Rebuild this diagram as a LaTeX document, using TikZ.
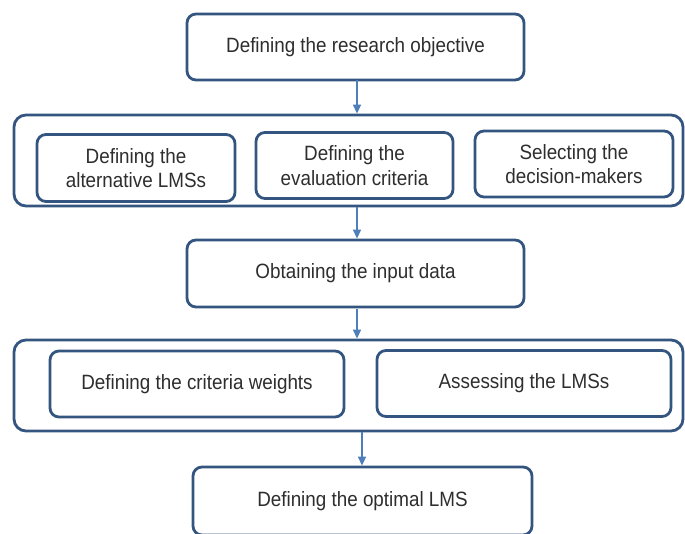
\documentclass[tikz,border=0pt]{standalone}
\usepackage{fontspec}
\setmainfont{Liberation Sans}[FakeStretch=0.91]
\usetikzlibrary{arrows.meta}
\definecolor{boxline}{HTML}{34557F}
\definecolor{arrline}{HTML}{4F7FBA}
\definecolor{txt}{HTML}{2E2E2E}
\tikzset{
  stagebox/.style={draw=boxline, line width=2.8pt, rounded corners=9pt, fill=white,
    align=center, text=txt, inner sep=0pt,
    font=\fontsize{20.7}{24.5}\selectfont},
  groupbox/.style={draw=boxline, line width=2.8pt, rounded corners=12pt, inner sep=0pt},
  flowarrow/.style={draw=arrline, line width=1.4pt, -{Triangle[length=9pt,width=8pt]}},
}
\begin{document}
\begin{tikzpicture}[x=1pt,y=-1pt]
\useasboundingbox (0,0) rectangle (685,533);
\fill[white] (0,0) rectangle (685,533);

\node[stagebox, minimum width=337pt, minimum height=66pt] (objective) at (355.5,47) {Defining the research objective};

\node[groupbox, minimum width=669pt, minimum height=91pt] (group1) at (348.5,160.5) {};
\node[stagebox, minimum width=198pt, minimum height=67pt] (alternatives) at (136,168) {Defining the\\alternative LMSs};
\node[stagebox, minimum width=197pt, minimum height=66pt] (criteria) at (354.5,165.5) {Defining the\\evaluation criteria};
\node[stagebox, minimum width=198pt, minimum height=66pt] (makers) at (574,164) {Selecting the\\decision-makers};

\node[stagebox, minimum width=337pt, minimum height=67pt] (input) at (355.5,273.5) {Obtaining the input data};

\node[groupbox, minimum width=669pt, minimum height=91pt] (group2) at (348.5,385.5) {};
\node[stagebox, minimum width=294pt, minimum height=66pt] (weights) at (197,384) {Defining the criteria weights};
\node[stagebox, minimum width=294pt, minimum height=66pt] (assess) at (524,383.5) {Assessing the LMSs};

\node[stagebox, minimum width=339pt, minimum height=68pt] (optimal) at (362.5,501) {Defining the optimal LMS};

\coordinate (a1) at (357,80);
\coordinate (a3) at (357,309);
\coordinate (a4) at (362,432);
\draw[flowarrow] (a1) -- (a1 |- group1.north);
\draw[flowarrow] (group1.south -| a1) -- (a1 |- input.north);
\draw[flowarrow] (a3) -- (a3 |- group2.north);
\draw[flowarrow] (a4) -- (a4 |- optimal.north);
\end{tikzpicture}
\end{document}
